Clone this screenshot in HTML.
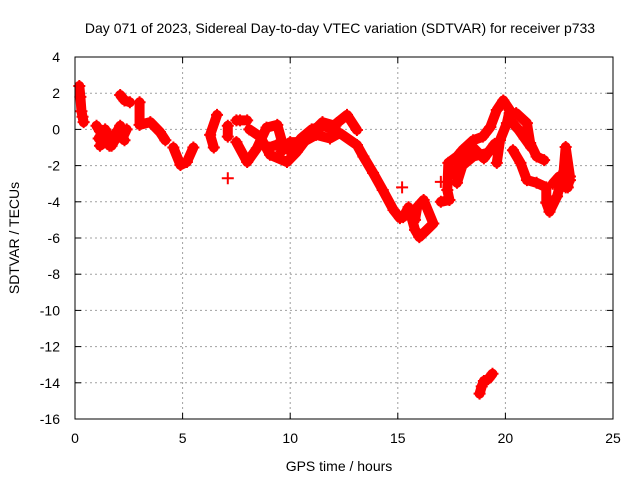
<!DOCTYPE html>
<html><head><meta charset="utf-8"><style>
body{margin:0;background:#fff;}
svg{display:block;font-family:"Liberation Sans",sans-serif;}
</style></head><body>
<svg id="chart" width="640" height="480">
<text x="340" y="33" font-size="14" text-anchor="middle">Day 071 of 2023, Sidereal Day-to-day VTEC variation (SDTVAR) for receiver p733</text>
<text x="339" y="471" font-size="14" text-anchor="middle">GPS time / hours</text>
<text transform="translate(19,238) rotate(-90)" font-size="14" text-anchor="middle">SDTVAR / TECUs</text>
<g id="grid"></g><g id="ticks"></g><g id="marks"></g>
<rect x="75" y="57" width="538" height="362" fill="none" stroke="#000" stroke-width="1"/>
</svg>
<script>
const xTicks=[0,5,10,15,20,25];
const yTicks=[4,2,0,-2,-4,-6,-8,-10,-12,-14,-16];
const t1h=[0.2,0.25,0.3,0.35,0.4];const t1v=[2.4,1.8,1.0,0.7,0.4];
const t2h=[1.0,1.16,1.3,1.16,1.5,1.77,1.6,2.1,2.2,2.4];const t2v=[0.2,-0.1,-0.5,-0.9,-0.6,-0.3,-0.9,0.2,-0.5,0.0];
const t3h=[2.1,2.3,2.55];const t3v=[1.9,1.6,1.5];
const t4h=[3.0,3.0,3.5,3.95,4.2];const t4v=[1.5,0.25,0.4,-0.15,-0.6];
const t5h=[4.57,4.9,5.2,5.5];const t5v=[-1.0,-1.97,-1.8,-1.0];
const t6h=[6.45,6.28,6.6];const t6v=[-1.0,-0.3,0.8];
const t7h=[7.1,7.1];const t7v=[0.2,-0.4];
const t8h=[7.1];const t8v=[-2.7];
const t9h=[7.5,7.67,8.0];const t9v=[0.5,0.5,0.5];
const t10h=[7.5,8.0,8.45,8.9,9.4,9.6];const t10v=[-0.7,-1.8,-1.05,0.1,0.25,-0.6];
const t11h=[8.1,8.6,9.06,9.85,10.3,10.9,11.5,12.1];const t11v=[0.0,-0.4,-1.4,-1.8,-1.25,-0.3,0.4,0.2];
const t12h=[9.6,10.0,10.6,11.2,11.85,12.3,13.1,13.4,13.85,14.3,14.8,15.1];const t12v=[-1.2,-0.7,-0.7,-0.3,-0.5,-0.2,-0.86,-1.5,-2.4,-3.35,-4.45,-4.9];
const t13h=[11.9,12.17,12.64,13.1];const t13v=[0.0,0.35,0.8,-0.03];
const t14h=[15.2];const t14v=[-3.2];
const t15h=[15.25,15.5,15.8,16.0,16.35,16.65,16.2,15.9,15.8];const t15v=[-4.85,-4.3,-5.55,-5.95,-5.55,-5.2,-3.9,-4.3,-5.0];
const t16h=[17.0];const t16v=[-2.9];
const t17h=[17.0,17.4,17.3,17.35,17.75,18.0,18.5,18.95,19.3,19.6,19.9,20.2,20.07,19.75,19.6];const t17v=[-4.0,-3.9,-3.35,-1.85,-1.5,-1.15,-0.6,-0.4,0.13,1.07,1.6,1.07,0.35,-0.6,-1.85];
const t18h=[17.75,18.0,18.5,19.15,19.5];const t18v=[-2.95,-2.0,-1.5,-1.3,-1.0];
const t19h=[20.2,20.5,21.0,21.15,21.45,21.8];const t19v=[0.9,0.9,0.35,-0.75,-1.5,-1.7];
const t20h=[20.35,20.7,21.0,21.45,21.9,21.9,22.05,22.4,22.7,22.8,23.0,22.9];const t20v=[-1.15,-1.85,-2.8,-2.95,-3.2,-4.05,-4.55,-3.7,-2.4,-0.97,-2.6,-3.2];
const t21h=[18.8,18.9,19.0,19.2,19.4];const t21v=[-14.6,-14.2,-13.9,-13.8,-13.5];
const t22h=[1.1,1.4,1.7,2.0,2.3];const t22v=[-0.5,0.0,-0.9,-0.3,-0.6];
const t23h=[9.0,9.5,10.0,10.5,11.0,11.5,12.0];const t23v=[-1.0,-0.8,-1.2,-0.5,0.0,0.2,0.0];
const t24h=[17.5,18.0,18.5,19.0,19.5];const t24v=[-2.5,-1.8,-1.0,-1.6,-0.8];
const t25h=[22.2,22.5,22.8,23.0];const t25v=[-3.0,-2.6,-3.2,-2.8];
const t26h=[20.3,20.6,20.9,21.2];const t26v=[0.4,0.0,-0.5,-1.0];
const tracksH=[t1h,t2h,t3h,t4h,t5h,t6h,t7h,t8h,t9h,t10h,t11h,t12h,t13h,t14h,t15h,t16h,t17h,t18h,t19h,t20h,t21h,t22h,t23h,t24h,t25h,t26h];
const tracksV=[t1v,t2v,t3v,t4v,t5v,t6v,t7v,t8v,t9v,t10v,t11v,t12v,t13v,t14v,t15v,t16v,t17v,t18v,t19v,t20v,t21v,t22v,t23v,t24v,t25v,t26v];
const NS="http://www.w3.org/2000/svg";
const X0=75,X1=613,Y0=419,Y1=57;
function sx(h){return X0+(h-0)/25*(X1-X0);}
function sy(v){return Y0-(v+16)/20*(Y0-Y1);}
function mk(t,a,p){const e=document.createElementNS(NS,t);for(const k in a)e.setAttribute(k,a[k]);p.appendChild(e);return e;}
const grid=document.getElementById('grid'),ticks=document.getElementById('ticks'),marks=document.getElementById('marks');
xTicks.forEach(t=>{const x=sx(t);
 if(t>0&&t<25){const g=mk('line',{x1:x,x2:x,y1:Y1,y2:Y0,stroke:'#a0a0a0','stroke-dasharray':'2,3'},grid);
 
 }
 mk('line',{x1:x,x2:x,y1:Y0,y2:Y0-6,stroke:'#000'},ticks);mk('line',{x1:x,x2:x,y1:Y1,y2:Y1+6,stroke:'#000'},ticks);
 const l=mk('text',{x:x,y:Y0+24,'font-size':14,'text-anchor':'middle'},ticks);l.textContent=t;
 
 });
yTicks.forEach(t=>{const y=sy(t);
 if(t>-16&&t<4){const g=mk('line',{x1:X0,x2:X1,y1:y,y2:y,stroke:'#a0a0a0','stroke-dasharray':'2,3'},grid);
 
 }
 mk('line',{x1:X0,x2:X0+6,y1:y,y2:y,stroke:'#000'},ticks);mk('line',{x1:X1,x2:X1-6,y1:y,y2:y,stroke:'#000'},ticks);
 const l=mk('text',{x:X0-15,y:y+5,'font-size':14,'text-anchor':'end'},ticks);l.textContent=t;
 
 });
tracksH.forEach((hs,i)=>{const vs=tracksV[i];
 const pts=hs.map((h,j)=>sx(h)+','+sy(vs[j])).join(' ');
 const pl=mk('polyline',{points:pts,fill:'none',stroke:'#ff0000','stroke-width':10,'stroke-linejoin':'round','stroke-linecap':'round'},marks);
 
 
 hs.forEach((h,j)=>{const x=sx(h),y=sy(vs[j]);
  const p=mk('path',{d:`M${x-6},${y}H${x+6}M${x},${y-6}V${y+6}`,stroke:'#ff0000','stroke-width':2},marks);
  
  });});
</script>
</body></html>
